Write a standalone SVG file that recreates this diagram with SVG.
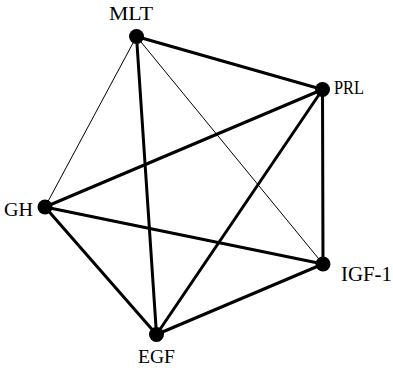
<svg xmlns="http://www.w3.org/2000/svg" width="393" height="373" viewBox="0 0 393 373">
<style>
.thick{stroke:#000;stroke-width:3;stroke-linecap:round}
.thin{stroke:#000;stroke-width:1}
.node{fill:#000}
.lbl{font-family:"Liberation Serif","Times New Roman",serif;font-size:19px;fill:#000}
</style>
<rect width="393" height="373" fill="#fff"/>
<g id="edges">
<line class="thick" x1="136.5" y1="36.5" x2="322.5" y2="89.5"/>
<line class="thin" x1="136.5" y1="36.5" x2="45" y2="207"/>
<line class="thick" x1="136.5" y1="36.5" x2="156.5" y2="334.5"/>
<line class="thin" x1="136.5" y1="36.5" x2="323" y2="264"/>
<line class="thick" x1="322.5" y1="89.5" x2="45" y2="207"/>
<line class="thick" x1="322.5" y1="89.5" x2="156.5" y2="334.5"/>
<line class="thick" x1="322.5" y1="89.5" x2="323" y2="264"/>
<line class="thick" x1="45" y1="207" x2="323" y2="264"/>
<line class="thick" x1="45" y1="207" x2="156.5" y2="334.5"/>
<line class="thick" x1="156.5" y1="334.5" x2="323" y2="264"/>
</g>
<g id="MLT"><circle class="node" cx="136.5" cy="36.5" r="7.5"/><text class="lbl" x="109" y="20" textLength="44" lengthAdjust="spacingAndGlyphs">MLT</text></g>
<g id="PRL"><circle class="node" cx="322.5" cy="89.5" r="7.5"/><text class="lbl" x="334" y="94" style="font-size:18px" textLength="30" lengthAdjust="spacingAndGlyphs">PRL</text></g>
<g id="IGF-1"><circle class="node" cx="323" cy="264" r="7.5"/><text class="lbl" x="341" y="281" style="font-size:20px" textLength="51" lengthAdjust="spacingAndGlyphs">IGF-1</text></g>
<g id="EGF"><circle class="node" cx="156.5" cy="334.5" r="7.5"/><text class="lbl" x="138" y="363" textLength="37" lengthAdjust="spacingAndGlyphs">EGF</text></g>
<g id="GH"><circle class="node" cx="45" cy="207" r="7.5"/><text class="lbl" x="4" y="216" textLength="29" lengthAdjust="spacingAndGlyphs">GH</text></g>
</svg>
